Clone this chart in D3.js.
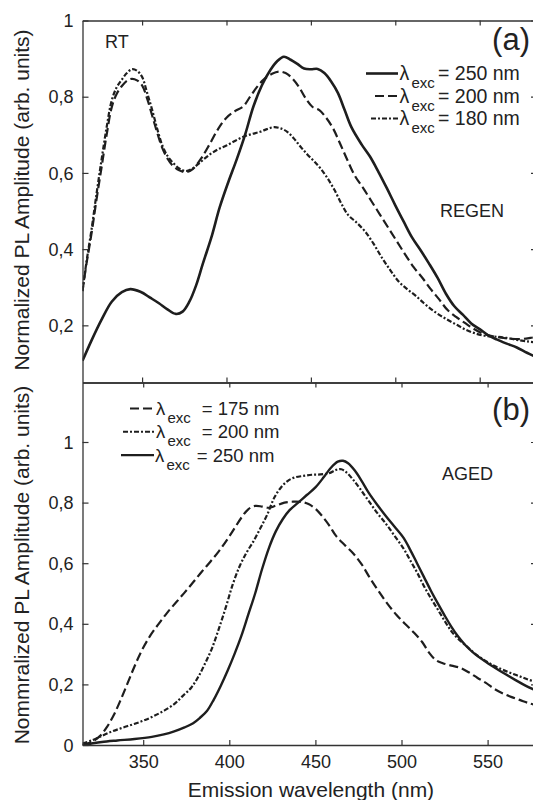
<!DOCTYPE html>
<html><head><meta charset="utf-8">
<script src="https://cdn.jsdelivr.net/npm/d3@7"></script>
<style>
body{margin:0;background:#fff}
svg{display:block}
text{font-family:"Liberation Sans", Arial, sans-serif; fill:#222}
</style>
</head><body>
<svg id="chart" width="533" height="800"></svg>
<script>
// ---------- DATA ----------
const xTicks = [350, 400, 450, 500, 550];
const xTickLabels = ["350", "400", "450", "500", "550"];
const yTicksTop = [0.2, 0.4, 0.6, 0.8, 1];
const yTickLabelsTop = ["0,2", "0,4", "0,6", "0,8", "1"];
const yTicksBottom = [0, 0.2, 0.4, 0.6, 0.8, 1];
const yTickLabelsBottom = ["0", "0,2", "0,4", "0,6", "0,8", "1"];

// Panel (a) REGEN
const wlA250 = [314.7,320,326,332,338,343,349,355,360,365,370,374,378,382,386,391,396,401,406,411,416,421,426,430,434,438,442,446,450,454,458,462,466,470,474,480,485,490,495,500,505,510,515,520,525,530,535,540,545,550,555,560,566,572,578,584];
const ampA250 = [0.107,0.16,0.215,0.262,0.287,0.295,0.288,0.272,0.258,0.242,0.230,0.236,0.262,0.305,0.362,0.43,0.51,0.575,0.635,0.70,0.775,0.83,0.87,0.893,0.905,0.897,0.886,0.874,0.872,0.873,0.862,0.84,0.81,0.765,0.72,0.675,0.643,0.603,0.56,0.515,0.472,0.43,0.397,0.362,0.325,0.283,0.25,0.228,0.205,0.19,0.174,0.163,0.152,0.142,0.128,0.116];

const wlA200 = [314.7,317,320,323,326,329,332,335,338,341,344,347,350,353,356,359,362,365,368,372,376,380,385,390,395,400,405,410,414,418,422,427,431,435,439,443,447,451,455,459,463,467,471,476,481,486,491,496,501,506,511,516,521,526,531,536,541,546,551,556,562,568,574,580,584];
const ampA200 = [0.29,0.36,0.44,0.53,0.615,0.70,0.772,0.808,0.828,0.842,0.847,0.843,0.83,0.795,0.75,0.705,0.665,0.638,0.62,0.607,0.602,0.61,0.638,0.675,0.715,0.745,0.762,0.775,0.80,0.825,0.845,0.86,0.866,0.862,0.848,0.825,0.795,0.773,0.765,0.745,0.718,0.68,0.64,0.593,0.56,0.525,0.49,0.455,0.42,0.385,0.352,0.325,0.295,0.268,0.24,0.222,0.207,0.192,0.18,0.173,0.168,0.165,0.164,0.167,0.17];

const wlA180 = [314.7,317,320,323,326,329,332,335,338,341,344,347,350,353,356,359,362,365,368,372,376,380,385,390,395,400,405,410,415,420,424,428,432,436,440,444,448,452,456,460,464,468,472,477,482,487,492,497,502,507,512,517,522,527,532,537,542,548,554,560,566,572,578,584];
const ampA180 = [0.29,0.365,0.45,0.545,0.635,0.72,0.79,0.825,0.845,0.862,0.872,0.868,0.852,0.81,0.765,0.715,0.672,0.645,0.628,0.612,0.605,0.612,0.63,0.648,0.662,0.672,0.684,0.695,0.702,0.708,0.715,0.72,0.717,0.708,0.69,0.668,0.648,0.63,0.61,0.585,0.555,0.52,0.49,0.47,0.447,0.415,0.378,0.345,0.315,0.295,0.278,0.258,0.24,0.225,0.212,0.2,0.188,0.178,0.172,0.17,0.167,0.162,0.158,0.155];

// Panel (b) AGED
const wlB250 = [314.75,320,326,335,345,355,362,368,374,379,383,387,391,395,399,403,407,411,415,419,423,427,431,435,440,445,450,455,459,463,466,469,473,477,481,486,491,496,501,505,509,513,517,521,525,529,533,537,542,548,554,560,566,572,579];
const ampB250 = [0.0,0.005,0.01,0.015,0.02,0.027,0.035,0.045,0.058,0.072,0.09,0.112,0.15,0.195,0.245,0.3,0.36,0.43,0.5,0.58,0.65,0.705,0.745,0.775,0.8,0.825,0.85,0.885,0.915,0.935,0.938,0.93,0.905,0.87,0.832,0.792,0.755,0.72,0.685,0.645,0.6,0.555,0.51,0.468,0.428,0.39,0.357,0.33,0.303,0.278,0.256,0.235,0.215,0.196,0.178];

const wlB200 = [314.75,320,326,332,338,344,350,356,362,368,373,378,382,386,390,394,398,402,406,410,414,418,422,426,430,434,438,443,448,453,458,462,465,468,472,476,481,486,491,496,501,505,509,513,517,521,525,529,533,538,543,549,555,561,567,573,579];
const ampB200 = [0.005,0.015,0.03,0.045,0.057,0.068,0.08,0.095,0.113,0.135,0.162,0.19,0.225,0.27,0.32,0.385,0.455,0.53,0.59,0.635,0.672,0.715,0.76,0.815,0.85,0.872,0.883,0.888,0.892,0.893,0.897,0.908,0.91,0.9,0.875,0.845,0.805,0.765,0.73,0.69,0.65,0.61,0.57,0.525,0.485,0.448,0.41,0.375,0.35,0.325,0.3,0.277,0.258,0.243,0.23,0.217,0.206];

const wlB175 = [314.75,320,325,329,333,337,341,345,349,354,359,364,369,374,379,384,389,394,399,403,407,411,415,419,423,427,432,437,442,446,450,454,458,462,467,472,477,482,487,492,497,502,507,512,516,520,524,529,534,539,544,549,554,559,564,569,574,579];
const ampB175 = [0.0,0.01,0.03,0.06,0.1,0.15,0.205,0.26,0.31,0.36,0.4,0.437,0.47,0.503,0.537,0.572,0.605,0.64,0.68,0.715,0.75,0.778,0.789,0.787,0.783,0.79,0.8,0.803,0.802,0.795,0.78,0.755,0.725,0.69,0.66,0.632,0.595,0.548,0.505,0.465,0.43,0.4,0.372,0.34,0.305,0.28,0.27,0.262,0.255,0.24,0.222,0.205,0.185,0.17,0.158,0.148,0.138,0.13];

const legendA = ["= 250 nm", "= 200 nm", "= 180 nm"];
const legendB = ["= 175 nm", "= 200 nm", "= 250 nm"];

// ---------- DRAW ----------
const svg = d3.select("#chart");
const INK = "#1e1e1e";
const AX = "#333";
const dashStyles = {solid: null, dashed: "9,4", dashdot: "5,2,2,2"};

function zip(a, b){ return a.map((d, i) => ({x: d, y: b[i]})); }

function panel(opt){
  const x = d3.scaleLinear().domain(opt.xDomain).range([opt.left, opt.right]);
  const y = d3.scaleLinear().domain(opt.yDomain).range([opt.bottom, opt.top]);
  const g = svg.append("g");
  const cid = "clip" + opt.id;
  svg.append("defs").append("clipPath").attr("id", cid)
    .append("rect").attr("x", opt.left).attr("y", opt.top)
    .attr("width", opt.right - opt.left).attr("height", opt.bottom - opt.top);

  const line = d3.line().x(d => x(d.x)).y(d => y(d.y)).curve(d3.curveCatmullRom.alpha(0.5));
  const sg = g.append("g").attr("clip-path", `url(#${cid})`);
  opt.series.forEach(s => {
    sg.append("path").datum(zip(s.wl, s.amp))
      .attr("d", line).attr("fill", "none").attr("stroke", INK)
      .attr("stroke-width", s.w).attr("stroke-dasharray", dashStyles[s.style])
      .attr("stroke-linejoin", "round");
  });

  const yl = g.append("g").attr("transform", `translate(${opt.left},0)`)
    .call(d3.axisLeft(y).tickValues(opt.yTicks).tickFormat((d, i) => opt.yLabels[i])
      .tickSizeInner(-6).tickSizeOuter(0).tickPadding(9));
  const yr = g.append("g").attr("transform", `translate(${opt.right},0)`)
    .call(d3.axisRight(y).tickValues(opt.yTicks).tickFormat("")
      .tickSizeInner(-6).tickSizeOuter(0));
  const xt = g.append("g").attr("transform", `translate(0,${opt.top})`)
    .call(d3.axisTop(x).tickValues(xTicks).tickFormat("").tickSizeInner(-5).tickSizeOuter(0));
  const xb = g.append("g").attr("transform", `translate(0,${opt.bottom})`)
    .call(d3.axisBottom(x).tickValues(xTicks)
      .tickFormat((d, i) => opt.xLabels ? xTickLabels[i] : "")
      .tickSizeInner(-5).tickSizeOuter(0).tickPadding(10));
  [yl, yr, xt, xb].forEach(a => {
    a.select(".domain").attr("stroke", AX).attr("stroke-width", 1.3);
    a.selectAll(".tick line").attr("stroke", AX).attr("stroke-width", 1.2);
    a.selectAll("text").attr("font-size", 18).attr("fill", "#222")
      .attr("font-family", '"Liberation Sans", Arial, sans-serif');
  });
  yl.selectAll("text").attr("dy", "0.34em");
  return {x, y, g};
}

const pA = panel({
  id: "a", left: 82.5, right: 537, top: 20.5, bottom: 382.5,
  xDomain: [314.7, 314.7 + (537 - 82.5) / 84.4 * 50],
  yDomain: [0.05, 1],
  yTicks: yTicksTop, yLabels: yTickLabelsTop, xLabels: false,
  series: [
    {wl: wlA250, amp: ampA250, style: "solid", w: 2.6},
    {wl: wlA200, amp: ampA200, style: "dashed", w: 2.2},
    {wl: wlA180, amp: ampA180, style: "dashdot", w: 2.2}
  ]
});

const pB = panel({
  id: "b", left: 82.5, right: 537, top: 382.5, bottom: 745,
  xDomain: [314.75, 314.75 + (537 - 82.5) / 86.1 * 50],
  yDomain: [0, (745 - 382.5) / 303],
  yTicks: yTicksBottom, yLabels: yTickLabelsBottom, xLabels: true,
  series: [
    {wl: wlB175, amp: ampB175, style: "dashed", w: 2.2},
    {wl: wlB200, amp: ampB200, style: "dashdot", w: 2.2},
    {wl: wlB250, amp: ampB250, style: "solid", w: 2.4}
  ]
});

// legends
function legend(rows, styles, widths, lx0, lx1, tx, ex, eqx, y0, dy, fs){
  rows.forEach((t, i) => {
    const yb = y0 + i * dy;
    svg.append("line").attr("x1", lx0[i]).attr("x2", lx1).attr("y1", yb - 6.5).attr("y2", yb - 6.5)
      .attr("stroke", INK).attr("stroke-width", widths[i])
      .attr("stroke-dasharray", dashStyles[styles[i]]);
    svg.append("text").attr("x", tx[i]).attr("y", yb).attr("font-size", fs).text("λ");
    svg.append("text").attr("x", ex[i]).attr("y", yb + 8).attr("font-size", 15).text("exc");
    svg.append("text").attr("x", eqx[i]).attr("y", yb).attr("font-size", fs).text(t);
  });
}
legend(legendA, ["solid", "dashed", "dashdot"], [2.6, 2, 2],
  [366, 375, 371], 398, [399.5, 399.5, 399.5], [411.5, 411.5, 411.5], [438, 438, 438], 80, 22.5, 19.5);
legend(legendB, ["dashed", "dashdot", "solid"], [2, 2, 2.2],
  [130, 123, 121], 154, [156, 156, 155], [167.5, 167.5, 166.5], [201.7, 201.7, 196.7], 415, 23.3, 18.5);

// annotations
svg.append("text").attr("x", 105).attr("y", 48).attr("font-size", 18).text("RT");
svg.append("text").attr("x", 440).attr("y", 217).attr("font-size", 18).text("REGEN");
svg.append("text").attr("x", 442).attr("y", 480).attr("font-size", 18).text("AGED");
svg.append("text").attr("x", 530).attr("y", 50).attr("font-size", 31).attr("text-anchor", "end").text("(a)");
svg.append("text").attr("x", 530).attr("y", 420).attr("font-size", 31).attr("text-anchor", "end").text("(b)");

// axis titles
svg.append("text").attr("transform", "translate(29,200) rotate(-90)")
  .attr("text-anchor", "middle").attr("font-size", 21).text("Normalized PL Amplitude (arb. units)");
svg.append("text").attr("transform", "translate(29,565) rotate(-90)")
  .attr("text-anchor", "middle").attr("font-size", 21).text("Nommralized PL Amplitude (arb. units)");
svg.append("text").attr("x", 311).attr("y", 797).attr("text-anchor", "middle")
  .attr("font-size", 21).text("Emission wavelength (nm)");
</script>
</body></html>
